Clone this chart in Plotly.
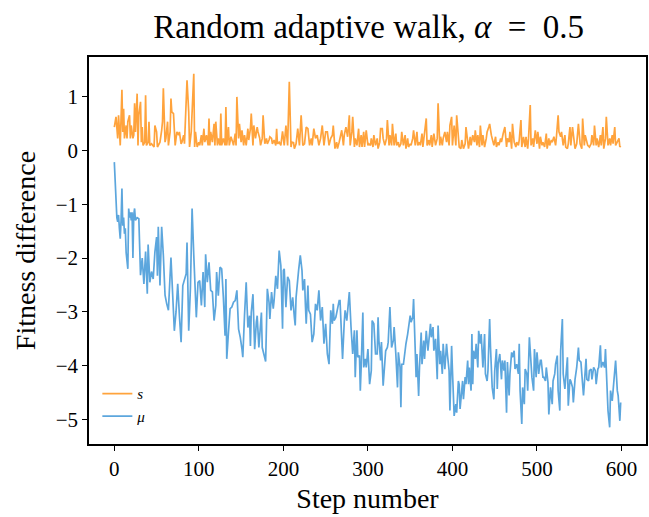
import plotly.graph_objects as go

# ---- data ----
s_steps = [0,2,4,5,7,8,9,10,11,12,14,15,16,18,19,20,22,23,24,25,27,28,29,31,32,33,34,36,37,38,40,41,42,44,45,47,48,50,51,52,54,56,57,58,60,61,63,64,66,67,68,70,71,72,74,76,77,79,80,82,83,85,86,88,89,91,92,94,95,96,98,100,101,103,104,106,107,109,111,112,113,114,116,118,119,120,122,123,125,126,127,129,131,132,133,135,136,138,140,141,143,144,145,147,148,150,151,153,154,156,158,159,161,162,164,165,167,169,170,172,173,175,176,178,180,181,183,184,186,187,189,191,192,
           193,195,197,199,201,203,205,207,209,210,212,213,215,217,219,221,223,225,227,229,231,233,234,236,238,240,242,244,246,248,250,252,254,256,258,259,261,263,264,266,268,269,271,272,274,276,278,279,281,282,284,285,287,289,290,292,293,295,296,298,300,301,303,304,306,307,309,311,312,314,315,317,318,320,322,323,325,326,328,329,331,333,334,336,337,339,340,342,344,345,347,348,350,351,353,354,356,358,359,361,362,364,365,367,369,370,372,373,375,376,378,380,382,383,385,386,388,389,391,393,394,396,397,
           399,400,402,404,405,407,408,410,411,413,415,416,418,419,421,422,424,426,427,429,430,432,433,435,436,438,440,441,443,444,446,447,449,451,452,454,455,457,458,460,462,464,465,467,468,470,471,473,475,476,478,479,481,482,484,486,487,489,490,492,493,495,496,498,500,501,503,504,506,507,509,511,512,514,515,517,518,520,522,523,525,526,528,529,531,533,534,536,537,539,540,542,544,545,547,548,549,551,553,554,556,557,559,560,562,564,565,567,568,570,571,573,575,576,578,579,581,582,584,586,587,589,590,592,593,595,597,598,599]
s_vals = [0.43,0.62,0.22,0.65,0.09,0.59,1.12,0.34,0.77,0.22,0.46,0.22,0.53,0.65,0.22,0.46,0.22,0.28,0.87,0.34,1.05,0.09,0.65,0.90,0.15,0.43,0.09,0.15,1.02,0.09,0.15,0.53,0.09,0.12,0.09,0.06,0.46,0.34,0.06,0.09,0.15,0.37,0.53,1.15,0.15,0.22,0.53,0.09,0.34,0.96,0.71,0.68,0.46,0.09,0.34,0.28,0.34,0.12,0.15,0.28,0.12,0.77,1.30,0.71,0.06,0.34,0.84,1.42,0.06,0.34,0.06,0.15,0.09,0.28,0.09,0.40,0.15,0.28,0.09,0.59,0.09,0.34,0.15,0.49,0.09,0.53,0.09,0.22,0.09,0.68,0.09,0.22,0.09,0.80,0.09,0.43,0.09,0.25,0.15,0.09,0.31,0.09,0.99,0.22,0.49,0.15,0.37,0.09,0.28,0.09,0.40,0.19,0.40,0.68,0.09,0.46,0.22,0.43,0.34,0.22,0.09,0.22,0.65,0.12,0.22,0.12,0.19,0.25,0.22,0.12,0.19,0.09,0.40,
          0.12,0.15,0.09,0.35,0.09,0.46,0.09,1.27,0.06,0.15,0.14,0.03,0.12,0.40,0.09,0.65,0.09,0.12,0.43,0.40,0.09,0.22,0.09,0.40,0.22,0.28,0.09,0.22,0.46,0.09,0.34,0.34,0.09,0.22,0.28,0.46,0.03,0.15,0.03,0.15,0.28,0.37,0.09,0.28,0.43,0.25,0.65,0.09,0.34,0.62,0.06,0.22,0.09,0.40,0.06,0.28,0.06,0.34,0.06,0.37,0.09,0.12,0.09,0.22,0.06,0.28,0.09,0.22,0.03,0.15,0.40,0.40,0.22,0.09,0.22,0.56,0.09,0.28,0.09,0.49,0.09,0.31,0.09,0.15,0.06,0.12,0.34,0.09,0.28,0.03,0.22,0.06,0.12,0.09,0.22,0.37,0.09,0.34,0.09,0.15,0.09,0.31,0.06,0.40,0.59,0.09,0.19,0.09,0.28,0.06,0.31,0.09,0.22,0.87,0.09,0.25,0.09,0.22,0.34,0.15,0.34,0.09,0.46,
          0.62,0.09,0.46,0.09,0.65,0.15,0.06,0.03,0.19,0.03,0.12,0.43,0.09,0.03,0.25,0.09,0.28,0.15,0.37,0.09,0.28,0.06,0.46,0.09,0.28,0.06,0.22,0.34,0.43,0.49,0.28,0.22,0.09,0.25,0.06,0.15,0.09,0.22,0.15,0.31,0.43,0.06,0.22,0.15,0.34,0.03,0.49,0.15,0.06,0.15,0.09,0.19,0.56,0.06,0.25,0.06,0.25,0.03,0.22,0.84,0.09,0.22,0.06,0.37,0.12,0.34,0.03,0.25,0.09,0.15,0.06,0.31,0.03,0.22,0.09,0.19,0.15,0.25,0.09,0.25,0.65,0.34,0.25,0.34,0.09,0.28,0.06,0.03,0.12,0.43,0.09,0.43,0.19,0.03,0.12,0.28,0.49,0.12,0.03,0.59,0.09,0.28,0.15,0.09,0.06,0.12,0.28,0.09,0.46,0.09,0.22,0.06,0.28,0.09,0.43,0.03,0.22,0.62,0.09,0.22,0.09,0.28,0.12,0.43,0.09,0.15,0.22,0.06,0.08]

mu_steps = [0,1,2,3,4,5,6,7,8,9,10,11,12,13,14,15,16,17,18,19,20,21,22,23,24,25,27,29,30,31,33,35,37,39,40,42,44,46,48,50,51,52,54,56,58,60,62,64,67,69,71,73,75,77,79,81,83,85,86,88,90,92,94,96,97,99,101,103,105,107,108,110,112,114,116,118,120,121,123,125,127,129,131,132,133,135,137,139,141,143,145,147,149,151,152,154,156,158,160,161,162,164,166,168,169,171,174,175,177,179,181,183,184,186,188,189,191,193,195,197,199,200,
            201,203,205,207,209,211,213,214,215,217,218,220,222,223,225,226,227,229,230,232,234,236,238,240,242,244,246,248,250,252,254,256,258,259,260,262,264,266,267,269,270,272,273,275,276,277,278,280,281,282,284,285,287,288,290,291,292,294,295,297,298,300,302,304,305,307,309,311,312,313,315,316,318,320,321,323,324,326,327,328,330,331,333,335,336,338,339,340,342,344,345,347,348,350,351,353,354,356,357,358,360,361,363,364,366,367,369,371,372,374,375,377,378,380,382,383,385,386,388,389,391,393,394,396,397,399,400,402,404,
            405,407,408,409,411,412,413,415,416,418,419,420,422,423,424,425,427,428,430,431,433,434,436,438,439,441,442,444,445,447,449,450,452,453,454,456,458,459,461,462,464,465,467,468,470,471,473,474,476,478,479,480,482,483,485,486,488,489,491,493,494,496,497,499,500,502,504,505,507,508,510,511,513,514,516,518,519,521,522,524,525,527,528,530,531,533,534,536,537,539,540,542,543,545,547,549,550,552,553,555,556,558,559,561,562,564,565,567,569,570,572,573,575,576,578,580,581,583,584,586,587,589,591,592,593,595,596,598,599]
mu_vals = [-0.22,-0.70,-1.10,-1.25,-1.33,-1.20,-1.45,-1.64,-1.30,-0.71,-1.40,-1.25,-1.55,-1.45,-1.90,-2.14,-2.20,-1.08,-1.25,-1.15,-1.30,-1.15,-2.00,-1.20,-1.08,-1.30,-1.25,-1.27,-1.83,-2.32,-2.00,-2.48,-1.88,-2.66,-1.75,-2.45,-2.25,-2.39,-1.89,-1.61,-2.33,-1.42,-2.51,-1.42,-1.95,-2.69,-2.85,-2.97,-1.99,-2.82,-3.35,-3.00,-2.48,-3.07,-3.56,-2.51,-2.39,-2.29,-1.71,-3.35,-2.57,-1.08,-1.95,-2.94,-3.10,-2.45,-2.42,-2.88,-2.26,-2.91,-1.93,-2.45,-2.08,-2.60,-2.63,-3.16,-2.88,-2.26,-2.70,-2.17,-2.20,-2.73,-3.44,-2.39,-3.87,-3.38,-2.94,-2.91,-2.82,-2.79,-2.60,-3.32,-3.47,-3.69,-3.84,-3.07,-2.45,-3.29,-3.07,-3.63,-3.01,-2.67,-3.69,-3.19,-3.07,-3.66,-3.01,-3.66,-3.78,-3.92,-2.57,-2.82,-3.13,-2.63,-2.94,-2.79,-2.33,-2.57,-1.86,-2.14,-3.31,-2.23,
           -2.20,-2.91,-2.35,-2.42,-2.97,-2.73,-3.10,-3.25,-2.73,-2.32,-2.23,-1.95,-2.23,-2.60,-2.39,-2.85,-3.22,-2.51,-2.97,-3.04,-3.56,-3.41,-2.85,-2.97,-2.60,-3.16,-2.91,-3.59,-3.22,-3.78,-3.97,-2.97,-3.22,-2.85,-3.16,-3.10,-2.97,-2.79,-2.79,-3.72,-3.87,-3.19,-2.97,-3.16,-2.97,-2.66,-2.63,-3.28,-3.47,-3.78,-3.34,-4.21,-3.34,-3.84,-3.81,-4.46,-4.03,-3.01,-4.03,-3.87,-4.03,-3.69,-4.34,-4.09,-3.16,-3.22,-3.78,-3.78,-3.10,-3.53,-3.90,-3.56,-4.37,-3.87,-3.72,-3.66,-3.56,-2.91,-3.53,-3.66,-3.53,-3.28,-3.78,-4.40,-3.75,-4.03,-4.77,-3.97,-3.97,-3.66,-3.59,-3.41,-3.32,-3.07,-3.19,-3.10,-2.76,-3.72,-4.21,-3.78,-4.56,-4.03,-3.38,-3.97,-3.53,-3.87,-3.35,-3.72,-3.53,-3.22,-3.47,-3.28,-3.72,-3.50,-4.25,-3.25,-3.97,-3.72,-4.15,-3.59,-4.06,-3.59,-3.78,-4.09,-4.83,-3.63,-4.09,-4.93,-4.71,
           -4.87,-4.28,-4.35,-4.80,-4.52,-4.28,-4.62,-4.21,-4.34,-3.90,-4.34,-4.03,-4.46,-3.41,-4.34,-3.72,-3.87,-3.59,-4.03,-3.35,-3.59,-3.41,-4.03,-3.41,-4.15,-4.28,-4.09,-3.13,-3.66,-4.40,-4.62,-4.09,-3.69,-4.43,-3.97,-3.78,-4.25,-3.90,-4.09,-3.90,-4.87,-3.93,-4.55,-4.15,-3.75,-3.84,-3.72,-4.06,-3.97,-4.15,-3.59,-4.46,-5.08,-4.40,-4.71,-4.06,-4.15,-4.46,-3.47,-3.93,-4.21,-4.46,-3.69,-4.21,-3.75,-4.15,-3.90,-3.90,-4.21,-4.21,-4.28,-4.03,-4.31,-4.90,-4.40,-4.71,-4.28,-4.15,-3.97,-3.81,-4.46,-4.83,-3.72,-3.13,-4.15,-4.43,-4.21,-3.84,-4.74,-4.25,-4.28,-4.40,-4.68,-4.25,-4.03,-3.66,-3.90,-3.93,-4.15,-4.55,-4.34,-3.87,-4.25,-4.28,-4.09,-4.06,-4.25,-4.03,-4.09,-4.34,-4.06,-4.03,-3.62,-4.03,-3.93,-4.03,-3.69,-4.28,-4.83,-5.14,-4.46,-4.65,-4.28,-4.06,-3.90,-4.46,-4.55,-5.02,-4.68]

x_ticks = [0, 100, 200, 300, 400, 500, 600]
y_ticks = [1, 0, -1, -2, -3, -4, -5]

title_text = "Random adaptive walk, <i>α</i>  =  0.5"
x_label = "Step number"
y_label = "Fitness difference"

FONT = "Liberation Serif"
ORANGE = "#ffa33c"
BLUE = "#5ca6dd"

fig = go.Figure()
fig.add_trace(go.Scatter(x=s_steps, y=s_vals, mode="lines", name="<i>s</i>",
                         line=dict(color=ORANGE, width=1.7)))
fig.add_trace(go.Scatter(x=mu_steps, y=mu_vals, mode="lines", name="<i>μ</i>",
                         line=dict(color=BLUE, width=1.7)))

def fmt(v):
    return ("−" + str(abs(v))) if v < 0 else str(v)

axis_common = dict(showline=True, linecolor="black", linewidth=1.5, mirror=True,
                   ticks="outside", ticklen=5, tickwidth=1.3, tickcolor="black",
                   showgrid=False, zeroline=False,
                   tickfont=dict(family=FONT, size=21, color="black"))

fig.update_layout(
    width=649, height=517,
    margin=dict(l=89, r=1, t=57, b=73),
    paper_bgcolor="white", plot_bgcolor="white",
    title=dict(text=title_text, x=0.568, xanchor="center", y=0.948, yanchor="middle",
               font=dict(family=FONT, size=33, color="black")),
    xaxis=dict(range=[-29.95, 628.95], tickvals=x_ticks, ticktext=[fmt(v) for v in x_ticks],
               title=dict(text=x_label, font=dict(family=FONT, size=28, color="black"), standoff=8),
               **axis_common),
    yaxis=dict(range=[-5.45, 1.73], tickvals=y_ticks, ticktext=[fmt(v) for v in y_ticks],
               title=dict(text=y_label, font=dict(family=FONT, size=28, color="black"), standoff=12),
               **axis_common),
    showlegend=True,
    legend=dict(x=0.015, y=0.03, xanchor="left", yanchor="bottom",
                bgcolor="rgba(255,255,255,0)", borderwidth=0,
                font=dict(family=FONT, size=15, color="black"),
                tracegroupgap=0, itemwidth=30),
)

fig.write_html("out.html")
